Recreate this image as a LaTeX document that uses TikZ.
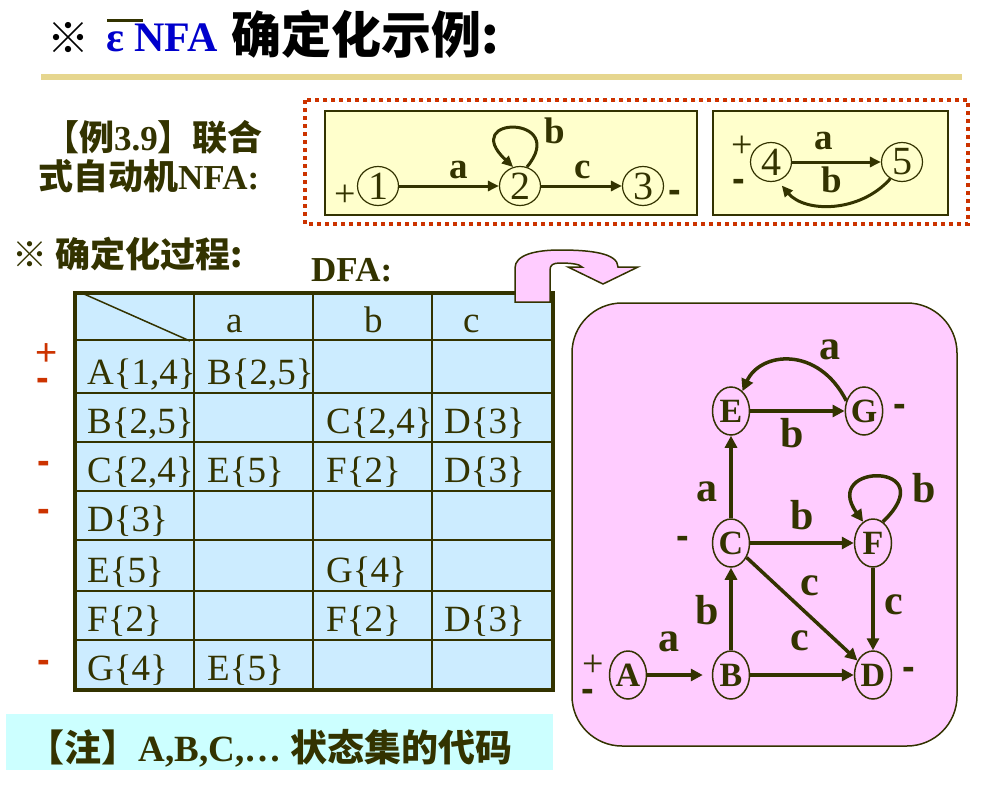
\documentclass[tikz,border=0pt]{standalone}
\usepackage{fontspec}
\setmainfont{Liberation Serif}
\setsansfont{Liberation Sans}
\newfontfamily\cjk{Noto Sans CJK SC}
\usetikzlibrary{arrows.meta,shapes.geometric}

\definecolor{darkolive}{RGB}{51,51,0}
\definecolor{markred}{RGB}{204,51,0}
\definecolor{titleblue}{RGB}{0,0,204}
\definecolor{rulegold}{RGB}{230,214,143}
\definecolor{nfafill}{RGB}{255,255,204}
\definecolor{dfafill}{RGB}{255,204,255}
\definecolor{tablefill}{RGB}{204,236,255}
\definecolor{notefill}{RGB}{204,255,255}

\newcommand{\fsz}[1]{\fontsize{#1}{#1}\selectfont}

\tikzset{
  dstate/.style={ellipse, draw=darkolive, line width=1.5pt, minimum width=37pt, minimum height=48pt, inner sep=0pt, text=darkolive, font=\fsz{34}\bfseries},
  nstate/.style={ellipse, draw=darkolive, line width=1.2pt, minimum width=41pt, minimum height=39pt, inner sep=0pt, text=darkolive, font=\fsz{40}},
  trans/.style={draw=darkolive, line width=3.5pt, -{Triangle[length=12pt,width=12pt]}},
  ntrans/.style={draw=darkolive, line width=3pt, -{Triangle[length=11pt,width=10pt]}},
  elabel/.style={text=darkolive, inner sep=0pt, font=\fsz{42}\bfseries},
  nlabel/.style={text=darkolive, inner sep=0pt, font=\fsz{37}\bfseries},
  cell/.style={anchor=base west, inner sep=0pt, text=darkolive, font=\fsz{37}},
  sign/.style={text=darkolive, inner sep=0pt, font=\sffamily\bfseries\fsz{38}},
  plus/.style={text=darkolive, inner sep=0pt, font=\fsz{38}},
  redsign/.style={text=markred, inner sep=0pt, font=\sffamily\fsz{38}},
  heading/.style={anchor=base west, inner sep=0pt, text=darkolive, font=\fsz{35}\bfseries},
}

\begin{document}
\begin{tikzpicture}[x=1pt, y=-1pt]
\useasboundingbox (0,0) rectangle (990,784);

% title
\node[anchor=base west, inner sep=0pt, font=\cjk\fsz{42}] (mark) at (47,53) {※};
\node[anchor=base west, inner sep=0pt, font=\fsz{42}\bfseries, text=titleblue] (nfa) at (106,52) {ε NFA};
\draw[darkolive, line width=3pt] (107,21) -- (143,21);
\node[anchor=base west, inner sep=0pt, font=\cjk\bfseries\fsz{50}] (title) at (231,53) {确定化示例:};
\fill[rulegold] (41,74) rectangle (962,80);

% example headings
\node[heading] (ex1) at (44,150) {{\cjk 【例}3.9{\cjk 】联合}};
\node[heading] (ex2) at (38,189) {{\cjk 式自动机}NFA:};
\node[heading] (proc) at (12,267) {{\cjk ※ 确定化过程:}};
\node[heading] (dfa) at (311,281) {DFA:};

% NFA boxes
\draw[markred, line width=4pt, dash pattern=on 4pt off 4pt] (305,100) rectangle (968,224);
\draw[darkolive, fill=nfafill, line width=2pt] (325,111) rectangle (697,215);
\draw[darkolive, fill=nfafill, line width=2pt] (713,111) rectangle (948,215);

\node[nstate] (n1) at (378,186) {1};
\node[nstate] (n2) at (520,186) {2};
\node[nstate] (n3) at (643,186) {3};
\node[nstate] (n4) at (771,162) {4};
\node[nstate] (n5) at (902,162) {5};

\draw[ntrans] (n1) -- (n2);
\draw[ntrans] (n2) -- (n3);
\draw[ntrans] (n2.70) .. controls (570,115) and (458,115) .. (n2.110);
\draw[ntrans] (n4) -- (n5);
\draw[ntrans, shorten >=6pt] (n5.235) .. controls (860,213) and (805,213) .. (n4.-70);

\node[nlabel] (la) at (459,170) {a};
\node[nlabel] (lb) at (555,131) {b};
\node[nlabel] (lc) at (583,170) {c};
\node[nlabel] (la2) at (824,141) {a};
\node[nlabel] (lb2) at (832,180) {b};

\node[plus] (p1) at (345,196) {+};
\node[sign] (m3) at (675,196) {-};
\node[plus] (p4) at (742,147) {+};
\node[sign] (m4) at (739,185) {-};

% table
\fill[tablefill] (75,293) rectangle (553,690);
\foreach \x in {194,313,432}
  \draw[darkolive, line width=2pt] (\x,293) -- (\x,690);
\foreach \y in {340,393,442,491,540,591,640}
  \draw[darkolive, line width=2pt] (75,\y) -- (553,\y);
\draw[darkolive, line width=3.5pt] (75,293) rectangle (553,690);
\draw[darkolive, line width=1.5pt] (84,294) -- (190,341);

\node[cell] (ha) at (226,332) {a};
\node[cell] (hb) at (364,332) {b};
\node[cell] (hc) at (463,332) {c};

\node[cell] (rA) at (87,384) {A\{1,4\}};
\node[cell] (rAa) at (207,384) {B\{2,5\}};
\node[cell] (rB) at (87,433) {B\{2,5\}};
\node[cell] (rBb) at (326,433) {C\{2,4\}};
\node[cell] (rBc) at (444,433) {D\{3\}};
\node[cell] (rC) at (87,482) {C\{2,4\}};
\node[cell] (rCa) at (207,482) {E\{5\}};
\node[cell] (rCb) at (326,482) {F\{2\}};
\node[cell] (rCc) at (444,482) {D\{3\}};
\node[cell] (rD) at (87,531) {D\{3\}};
\node[cell] (rE) at (87,582) {E\{5\}};
\node[cell] (rEb) at (326,582) {G\{4\}};
\node[cell] (rF) at (87,631) {F\{2\}};
\node[cell] (rFb) at (326,631) {F\{2\}};
\node[cell] (rFc) at (444,631) {D\{3\}};
\node[cell] (rG) at (87,680) {G\{4\}};
\node[cell] (rGa) at (207,680) {E\{5\}};

\node[redsign] (tp) at (47,355) {+};
\node[redsign] (tmA) at (43,384) {\bfseries -};
\node[redsign] (tmC) at (44,467) {\bfseries -};
\node[redsign] (tmD) at (44,515) {\bfseries -};
\node[redsign] (tmG) at (44,666) {\bfseries -};

% DFA
\draw[darkolive, fill=dfafill, line width=1.5pt, rounded corners=50pt] (572,303) rectangle (957,746);
\draw[darkolive, fill=dfafill, line width=1.5pt]
  (515,302) -- (515,268) .. controls (515,255) and (535,250) .. (560,250)
  .. controls (590,250) and (618,253) .. (618,267) -- (638,267) -- (603,284)
  -- (568,267) -- (582,267) .. controls (580,264) and (570,263) .. (560,263)
  .. controls (553,263) and (550,265) .. (550,270) -- (550,302) -- cycle;

\node[dstate] (A) at (628,675) {A};
\node[dstate] (B) at (731,675) {B};
\node[dstate] (D) at (873,675) {D};
\node[dstate] (C) at (731,543) {C};
\node[dstate] (F) at (873,543) {F};
\node[dstate] (E) at (731,411) {E};
\node[dstate] (G) at (864,411) {G};

\draw[trans, shorten >=9pt] (A) -- (B);
\draw[trans] (B) -- (D);
\draw[trans] (B) -- (C);
\draw[trans] (C) -- (D);
\draw[trans] (C) -- (F);
\draw[trans] (F) -- (D);
\draw[trans] (C) -- (E);
\draw[trans] (E) -- (G);
\draw[trans] (G.150) .. controls (818,345) and (760,352) .. (E.60);
\draw[trans] (F.65) .. controls (945,462) and (820,462) .. (F.115);

\node[elabel] (dAB) at (669,642) {a};
\node[elabel] (dBC) at (707,610) {b};
\node[elabel] (dBD) at (800,641) {c};
\node[elabel] (dCD) at (810,586) {c};
\node[elabel] (dFD) at (894,605) {c};
\node[elabel] (dCF) at (802,515) {b};
\node[elabel] (dFF) at (924,488) {b};
\node[elabel] (dCE) at (707,492) {a};
\node[elabel] (dEG) at (792,433) {b};
\node[elabel] (dGE) at (830,350) {a};

\node[plus] (pA) at (593,666) {+};
\node[sign] (mA) at (588,695) {-};
\node[sign] (mC) at (683,542) {-};
\node[sign] (mD) at (909,673) {-};
\node[sign] (mG) at (900,410) {-};

% note
\fill[notefill] (6,714) rectangle (553,770);
\node[anchor=base, inner sep=0pt, text=darkolive, font=\fsz{37}\bfseries] (note) at (270,761)
  {{\cjk 【注】}A,B,C,… {\cjk 状态集的代码}};
\end{tikzpicture}
\end{document}
